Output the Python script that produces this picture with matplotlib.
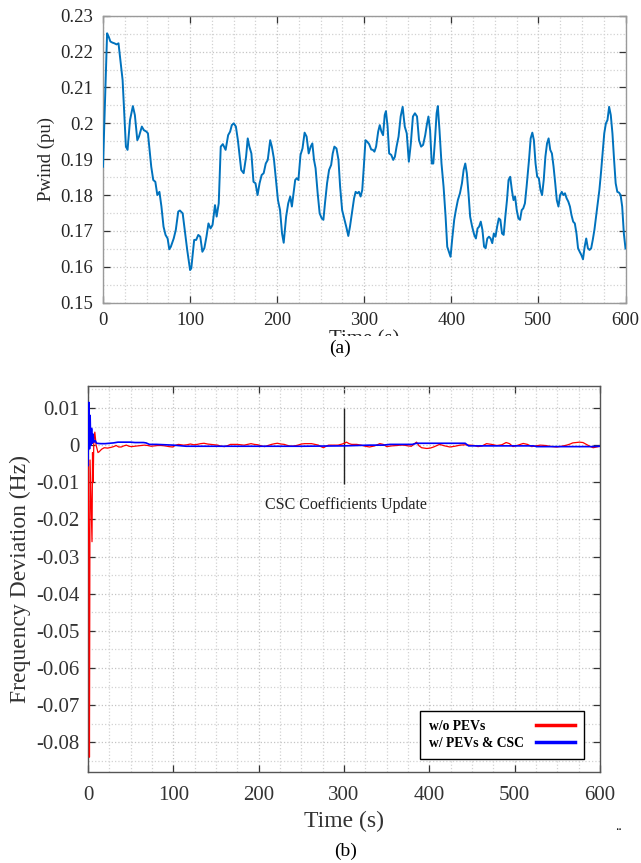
import numpy as np
import matplotlib
matplotlib.use("Agg")
import matplotlib.pyplot as plt
from matplotlib.ticker import MultipleLocator, FuncFormatter
from matplotlib.patches import Rectangle

# ---------------- data: (a) wind power ----------------
wind_t = [0, 4.7, 6.6, 8.5, 10.8, 13.1, 15.5, 17.8, 22.5, 26.3, 28.2, 31.0, 34.3, 36.6, 39.4, 41.3,
          44.6, 46.9, 49.8, 51.6, 55.4, 57.7, 60.1, 62.4, 64.8, 67.1, 69.5, 71.8, 74.2, 76.1, 77.9,
          81.2, 83.6, 86.4, 88.3, 91.5, 93.9, 96.7, 100.0, 101.4, 104.7, 107.0, 109.4, 111.7, 114.1,
          116.4, 118.8, 121.1, 123.5, 125.8, 128.6, 130.5, 132.9, 135.2, 137.6, 140.8, 143.7, 146.0,
          147.9, 150.2, 152.6, 154.9, 158.7, 161.5, 164.3, 166.2, 168.1, 170.4, 172.8, 175.1, 177.5,
          179.8, 182.2, 184.5, 186.9, 189.2, 192.0, 193.9, 196.2, 198.6, 200.9, 203.3, 205.6, 207.5,
          210.3, 212.7, 215.0, 216.9, 218.8, 220.7, 222.5, 224.4, 226.8, 229.1, 231.5, 233.8, 236.2,
          238.5, 240.4, 242.3, 244.1, 246.5, 248.8, 251.2, 253.1, 254.9, 257.3, 259.6, 262.0, 263.8,
          265.7, 268.1, 270.4, 272.3, 274.6, 277.0, 279.3, 281.7, 283.6, 286.4, 288.3, 290.1, 292.0,
          293.9, 295.8, 297.7, 299.5, 301.4, 303.3, 305.6, 308.0, 309.9, 311.7, 313.6, 316.0, 317.8,
          319.7, 321.6, 323.5, 324.9, 326.8, 328.6, 331.0, 333.3, 335.2, 337.1, 339.4, 341.8, 344.1,
          346.5, 348.8, 351.2, 353.5, 355.9, 358.2, 360.6, 362.9, 365.3, 367.6, 370.0, 371.8, 373.7,
          375.6, 377.5, 379.3, 381.2, 383.1, 384.5, 386.4, 388.7, 391.1, 393.4, 395.3, 397.2, 399.1,
          400.9, 403.3, 405.2, 407.5, 409.9, 412.2, 414.1, 416.0, 417.8, 419.7, 421.6, 423.9, 426.3,
          428.2, 430.1, 431.9, 433.8, 435.7, 437.6, 439.4, 441.3, 443.2, 445.1, 447.0, 448.8, 450.7,
          452.6, 454.5, 456.3, 458.2, 460.1, 462.0, 463.9, 465.7, 467.6, 469.5, 471.4, 473.2, 475.1,
          477.0, 478.9, 480.8, 482.6, 484.5, 486.4, 489.2, 491.1, 493.0, 494.8, 496.7, 498.6, 500.5,
          502.4, 504.2, 506.1, 508.0, 509.9, 511.7, 513.6, 515.5, 517.4, 519.3, 521.1, 523.0, 524.9,
          526.8, 528.6, 530.5, 532.4, 534.3, 536.2, 538.0, 539.9, 541.8, 543.7, 545.5, 547.4, 549.3,
          551.2, 553.1, 554.9, 556.8, 558.7, 560.6, 562.4, 564.3, 566.2, 568.1, 570.0, 571.8, 573.7,
          575.6, 577.5, 579.3, 581.2, 583.1, 585.0, 586.9, 588.7, 590.6, 592.5, 594.4, 596.2, 598.1,
          600.0]
wind_v = [0.1879, 0.2251, 0.2241, 0.2228, 0.2225, 0.2223, 0.2220, 0.2223, 0.2121, 0.1935, 0.1926,
          0.2009, 0.2048, 0.2023, 0.1953, 0.1963, 0.1991, 0.1981, 0.1977, 0.1972, 0.1879, 0.1842,
          0.1837, 0.1800, 0.1809, 0.1768, 0.1712, 0.1689, 0.1679, 0.1649, 0.1656, 0.1679, 0.1703,
          0.1754, 0.1757, 0.1749, 0.1703, 0.1647, 0.1591, 0.1596, 0.1675, 0.1675, 0.1689, 0.1684,
          0.1642, 0.1652, 0.1684, 0.1721, 0.1707, 0.1717, 0.1772, 0.1740, 0.1777, 0.1935, 0.1942,
          0.1926, 0.1967, 0.1977, 0.1995, 0.2000, 0.1991, 0.1953, 0.1870, 0.1861, 0.1907, 0.1958,
          0.1935, 0.1916, 0.1837, 0.1833, 0.1800, 0.1833, 0.1856, 0.1861, 0.1888, 0.1898, 0.1953,
          0.1935, 0.1902, 0.1842, 0.1786, 0.1758, 0.1693, 0.1667, 0.1740, 0.1777, 0.1796, 0.1768,
          0.1805, 0.1842, 0.1847, 0.1842, 0.1912, 0.1930, 0.1974, 0.1963, 0.1916, 0.1935, 0.1944,
          0.1898, 0.1875, 0.1805, 0.1749, 0.1735, 0.1731, 0.1777, 0.1833, 0.1870, 0.1884, 0.1916,
          0.1935, 0.1930, 0.1898, 0.1823, 0.1758, 0.1735, 0.1712, 0.1686, 0.1712, 0.1758, 0.1791,
          0.1809, 0.1805, 0.1809, 0.1796, 0.1814, 0.1879, 0.1953, 0.1949, 0.1942, 0.1927, 0.1926,
          0.1921, 0.1935, 0.1977, 0.1995, 0.1977, 0.1967, 0.2023, 0.2034, 0.1991, 0.1916, 0.1912,
          0.1898, 0.1907, 0.1935, 0.1963, 0.2019, 0.2046, 0.1991, 0.1972, 0.1893, 0.1944, 0.2019,
          0.2028, 0.2019, 0.1953, 0.1935, 0.1940, 0.1967, 0.1995, 0.2019, 0.1981, 0.1888, 0.1888,
          0.1953, 0.2028, 0.2048, 0.1981, 0.1888, 0.1823, 0.1740, 0.1656, 0.1642, 0.1628, 0.1675,
          0.1731, 0.1758, 0.1786, 0.1805, 0.1833, 0.1870, 0.1888, 0.1861, 0.1805, 0.1740, 0.1712,
          0.1689, 0.1679, 0.1707, 0.1712, 0.1726, 0.1703, 0.1656, 0.1652, 0.1679, 0.1684, 0.1679,
          0.1666, 0.1693, 0.1684, 0.1712, 0.1735, 0.1731, 0.1693, 0.1689, 0.1740, 0.1786, 0.1842,
          0.1851, 0.1814, 0.1786, 0.1796, 0.1758, 0.1735, 0.1731, 0.1758, 0.1763, 0.1777, 0.1823,
          0.1898, 0.1958, 0.1974, 0.1953, 0.1888, 0.1851, 0.1847, 0.1814, 0.1800, 0.1842, 0.1907,
          0.1944, 0.1958, 0.1926, 0.1916, 0.1879, 0.1833, 0.1786, 0.1768, 0.1800, 0.1809, 0.1800,
          0.1805, 0.1791, 0.1782, 0.1768, 0.1744, 0.1726, 0.1721, 0.1693, 0.1652, 0.1642, 0.1633,
          0.1621, 0.1656, 0.1679, 0.1652, 0.1647, 0.1652, 0.1675, 0.1703, 0.1740, 0.1777, 0.1814,
          0.1861, 0.1916, 0.1972, 0.2000, 0.2009, 0.2046, 0.2023, 0.1972, 0.1898, 0.1833, 0.1809,
          0.1807, 0.1800, 0.1768, 0.1693, 0.1651]

# ---------------- data: (b) frequency deviation ----------------
red_t = [0, 1.0, 1.7, 2.4, 4.7, 5.3, 6.1, 6.8, 8.0, 9.5,
         11.7, 13, 16, 19, 23, 27, 30, 33, 36, 39,
         42, 45, 48, 51, 55, 58, 62, 66, 70, 74,
         78, 82, 86, 90, 95, 99, 103, 106, 112, 116,
         120, 124, 128, 132, 136, 140, 144, 148, 152, 156,
         160, 164, 167, 171, 175, 179, 183, 187, 191, 195,
         199, 203, 207, 211, 215, 219, 222, 226, 230, 234,
         238, 242, 246, 250, 254, 258, 262, 266, 270, 273,
         276, 279, 282, 287, 293, 298, 303, 306, 309, 315,
         320, 325, 330, 336, 342, 346, 350, 356, 362, 366,
         370, 375, 379, 382, 385, 388, 391, 397, 401, 405,
         409, 412, 418, 424, 430, 436, 442, 448, 453, 457,
         462, 467, 473, 479, 485, 490, 494, 498, 504, 510,
         515, 520, 525, 530, 536, 541, 545, 549, 555, 561,
         565, 568, 572, 576, 580, 584, 588, 592, 596, 600]
red_v = [0.0, -0.03, -0.084, -0.004, -0.026, -0.002, -0.010, 0.001, 0.0035, 0.0,
         -0.002, -0.0018, -0.0011, -0.0007, -0.0008, -0.0006, -0.0004, -0.0001, -0.0005, -0.0005,
         -0.0002, 0.0, -0.0003, -0.0004, -0.0003, -0.0002, -0.0001, 0.0, -0.0001, -0.0003,
         -0.0002, -0.0001, -0.0001, -0.0002, -0.0004, -0.0005, 0.0, 0.0002, 0.0, 0.0001,
         0.0003, 0.0001, 0.0002, 0.0004, 0.0005, 0.0003, 0.0002, 0.0001, 0.0, -0.0003,
         -0.0004, -0.0001, 0.0002, 0.0002, 0.0002, 0.0001, 0.0, 0.0002, 0.0004, 0.0002,
         0.0001, -0.0002, -0.0004, -0.0001, 0.0002, 0.0004, 0.0005, 0.0003, 0.0002, -0.0001,
         -0.0003, -0.0002, 0.0, 0.0003, 0.0004, 0.0004, 0.0004, 0.0002, 0.0, -0.0004,
         -0.0007, -0.0003, 0.0, 0.0, 0.0, 0.0003, 0.0008, 0.0004, 0.0002, 0.0002,
         0.0, -0.0003, -0.0005, -0.0002, 0.0004, 0.0002, -0.0004, -0.0002, -0.0001, 0.0,
         0.0, -0.0002, -0.0003, 0.0003, 0.0008, -0.0002, -0.0007, -0.0009, -0.0008, -0.0005,
         -0.0001, 0.0002, -0.0002, -0.0005, -0.0003, 0.0, 0.0001, 0.0, -0.0001, -0.0004,
         -0.0002, 0.0004, 0.0002, -0.0001, 0.0001, 0.0007, 0.0004, -0.0004, 0.0, 0.00045,
         0.0002, -0.0004, -0.0002, 0.0, -0.0001, -0.0003, -0.0004, -0.0005, -0.0003, 0.0,
         0.0003, 0.0006, 0.0007, 0.0008, 0.0007, 0.0002, -0.0003, -0.0007, -0.0005, -0.0003]

blue_t = [0, 1.0, 1.8, 2.5, 3.2, 4.2, 5.0, 5.8, 7.0, 8.5,
          10, 15, 20, 25, 30, 35, 40, 45, 50, 55,
          60, 65, 68, 72, 80, 90, 100, 110, 115, 150,
          200, 250, 300, 330, 346, 354, 380, 385, 420, 442,
          446, 480, 522, 526, 560, 590, 600]
blue_v = [-0.0055, 0.0115, -0.001, 0.008, 0.0, 0.0045, 0.0005, 0.003, 0.0008, 0.0012,
          0.0005, 0.0004, 0.0004, 0.0005, 0.0006, 0.0008, 0.0008, 0.0008, 0.0008, 0.0007,
          0.0007, 0.0007, 0.0006, 0.0002, 0.0002, 0.0001, 0.0, -0.0002, -0.0003, -0.0003,
          -0.0003, -0.0003, -0.0002, 0.0, 0.0, 0.0002, 0.0002, 0.0005, 0.0005, 0.0005,
          -0.0002, -0.0002, -0.0002, -0.0004, -0.0004, -0.0004, -0.0003]

wind_xticks = [0, 100, 200, 300, 400, 500, 600]
wind_yticks = [0.15, 0.16, 0.17, 0.18, 0.19, 0.20, 0.21, 0.22, 0.23]
freq_yticks = [0.01, 0, -0.01, -0.02, -0.03, -0.04, -0.05, -0.06, -0.07, -0.08]

# ---------------- figure ----------------
plt.rcParams['font.family'] = ['Liberation Serif', 'DejaVu Serif']
fig = plt.figure(figsize=(6.41, 8.63), dpi=100)
W, H = 641.0, 863.0

fmt = FuncFormatter(lambda v, p: '%g' % round(v, 4))


def style_axes(ax, spine_color, label_color, fsize, padx, pady):
    for s in ax.spines.values():
        s.set_color(spine_color)
        s.set_linewidth(1.0)
    ax.tick_params(which='major', direction='in', length=5, width=0.9, color='#333333',
                   top=True, right=True, labelsize=fsize, labelcolor=label_color)
    ax.tick_params(axis='x', pad=padx)
    ax.tick_params(axis='y', pad=pady)
    ax.tick_params(which='minor', length=0, top=True, right=True)
    ax.grid(True, which='major', linestyle=':', color='#c4c4c4', linewidth=0.9)
    ax.grid(True, which='minor', linestyle=':', color='#d2d2d2', linewidth=0.9)
    ax.set_axisbelow(True)


# (a)
ax1 = fig.add_axes([103 / W, 1 - 302.7 / H, 522.5 / W, 287 / H])
ax1.plot(wind_t, wind_v, color='#0072BD', linewidth=1.4, zorder=3)
ax1.set_xlim(0, 600)
ax1.set_ylim(0.15, 0.23)
ax1.set_xticks(wind_xticks)
ax1.set_yticks(wind_yticks)
ax1.xaxis.set_minor_locator(MultipleLocator(25))
ax1.yaxis.set_minor_locator(MultipleLocator(0.005))
ax1.yaxis.set_major_formatter(fmt)
style_axes(ax1, '#9a9a9a', '#262626', 13.5, 7, 7)
ax1.set_ylabel('Pwind (pu)', fontsize=13.5, color='#262626', labelpad=4)
fig.text(364 / W, 1 - 330 / H, 'Time (s)', ha='center', va='top', fontsize=15,
         color='#262626', zorder=1)
fig.add_artist(Rectangle((0, 1 - 372 / H), 1, 36 / H, transform=fig.transFigure,
                         facecolor='white', edgecolor='none', zorder=2))
fig.text(340 / W, 1 - 348 / H, '(a)', ha='center', va='center', fontsize=14, zorder=4)

# (b)
ax2 = fig.add_axes([88 / W, 1 - 772 / H, 512 / W, 386.3 / H])
ax2.plot(red_t, red_v, color='#ff0000', linewidth=0.9, label='w/o PEVs', zorder=3)
ax2.plot(blue_t, blue_v, color='#0000ff', linewidth=1.2, label='w/ PEVs & CSC', zorder=3)
ax2.set_xlim(0, 600)
ax2.set_ylim(-0.088, 0.016)
ax2.set_xticks(wind_xticks)
ax2.set_yticks(freq_yticks)
ax2.xaxis.set_minor_locator(MultipleLocator(25))
ax2.yaxis.set_minor_locator(MultipleLocator(0.005))
ax2.yaxis.set_major_formatter(fmt)
style_axes(ax2, '#555555', '#333333', 15, 10, 6)
ax2.set_xlabel('Time (s)', fontsize=17, color='#333333', labelpad=4)
ax2.set_ylabel('Frequency Deviation (Hz)', fontsize=17, color='#333333', labelpad=4)

ax2.vlines(300, -0.0105, 0.0099, color='#222222', linewidth=1.0)
ax2.text(302, -0.0162, 'CSC Coefficients Update', ha='center', va='center', fontsize=11.5,
         color='#222222')

leg = ax2.legend(loc='lower right', bbox_to_anchor=(0.969, 0.034), markerfirst=False,
                 fancybox=False, framealpha=1, edgecolor='black', handlelength=2.9,
                 prop={'weight': 'bold', 'size': 9.8}, borderpad=0.65, labelspacing=0.3,
                 handletextpad=0.9, borderaxespad=0)
leg.get_frame().set_linewidth(1.0)
for ln in leg.get_lines():
    ln.set_linewidth(2.5)

fig.text(346 / W, 1 - 851 / H, '(b)', ha='center', va='center', fontsize=14)
fig.text(619 / W, 1 - 826 / H, '..', ha='center', va='center', fontsize=10)

# left-align legend labels while keeping the handles in one right-hand column
fig.canvas.draw()
renderer = fig.canvas.get_renderer()
try:
    col = leg._legend_handle_box.get_children()[0]
    rows = col.get_children()
    widths = [t.get_window_extent(renderer).width for t in leg.get_texts()]
    wmax = max(widths)
    for row, w in zip(rows, widths):
        row.sep = row.sep + (wmax - w) * 72.0 / fig.dpi
except Exception:
    pass

fig.savefig('out.png', dpi=100)
